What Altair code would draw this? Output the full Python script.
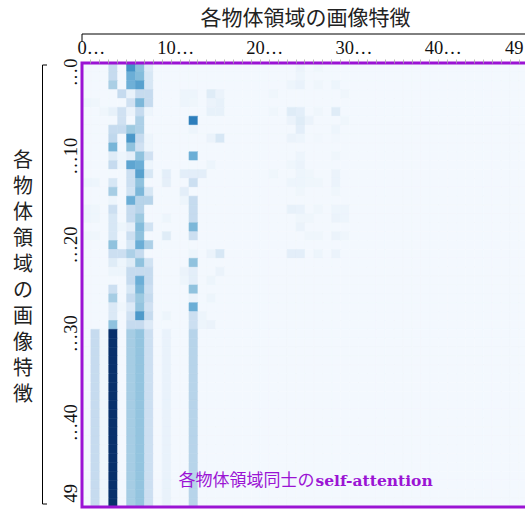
import altair as alt
import pandas as pd

# ---- attention weights (query row -> key column), 50 object regions ----
N_REGIONS = 50
BASE_WEIGHT = 0.02

# rows 0-29: sparse weights {column: weight}; unspecified columns take BASE_WEIGHT
upper_rows = [
    {3: 0.25, 5: 0.62, 6: 0.42, 7: 0.13, 24: 0.06, 26: 0.04},
    {3: 0.25, 5: 0.50, 6: 0.44, 7: 0.16, 24: 0.05},
    {3: 0.34, 5: 0.49, 6: 0.56, 7: 0.16, 23: 0.05, 24: 0.07, 26: 0.04, 28: 0.05},
    {4: 0.25, 5: 0.07, 6: 0.25, 7: 0.25, 11: 0.05, 12: 0.05, 14: 0.12, 15: 0.06, 21: 0.04, 29: 0.04},
    {0: 0.05, 1: 0.04, 5: 0.20, 6: 0.46, 7: 0.25, 11: 0.05, 12: 0.04, 14: 0.06, 15: 0.08},
    {2: 0.04, 3: 0.08, 4: 0.20, 5: 0.06, 6: 0.25, 7: 0.05, 14: 0.08, 15: 0.08, 21: 0.04,
     23: 0.12, 24: 0.10, 26: 0.04, 28: 0.12},
    {4: 0.20, 6: 0.33, 12: 0.70, 23: 0.06, 24: 0.12, 25: 0.06, 29: 0.04},
    {3: 0.25, 4: 0.25, 5: 0.375, 6: 0.33, 12: 0.05, 24: 0.10, 28: 0.05},
    {3: 0.27, 5: 0.60, 6: 0.25, 7: 0.05, 14: 0.06, 15: 0.16, 23: 0.06, 24: 0.05, 26: 0.03, 28: 0.03},
    {3: 0.47, 5: 0.41, 6: 0.20, 7: 0.05},
    {3: 0.12, 4: 0.05, 5: 0.09, 6: 0.41, 7: 0.20, 12: 0.50, 24: 0.05, 28: 0.04},
    {3: 0.25, 4: 0.05, 5: 0.54, 6: 0.50, 7: 0.05, 14: 0.05, 23: 0.04, 24: 0.06},
    {5: 0.22, 6: 0.56, 7: 0.16, 9: 0.10, 11: 0.10, 12: 0.10, 13: 0.10, 21: 0.04, 24: 0.05, 25: 0.04, 28: 0.06},
    {0: 0.05, 1: 0.05, 3: 0.16, 5: 0.22, 6: 0.41, 9: 0.09, 12: 0.22, 23: 0.05, 24: 0.05, 25: 0.04,
     26: 0.04, 28: 0.06},
    {3: 0.35, 5: 0.19, 6: 0.46, 7: 0.16, 11: 0.10, 24: 0.04, 28: 0.04},
    {3: 0.05, 5: 0.50, 6: 0.30, 7: 0.30, 11: 0.05, 12: 0.25},
    {0: 0.05, 1: 0.04, 3: 0.22, 5: 0.25, 6: 0.30, 12: 0.25, 23: 0.08, 24: 0.07, 26: 0.04, 28: 0.05, 29: 0.05},
    {0: 0.05, 1: 0.04, 3: 0.16, 5: 0.25, 6: 0.375, 9: 0.05, 12: 0.25, 24: 0.04, 25: 0.04, 28: 0.06, 29: 0.05},
    {3: 0.16, 4: 0.05, 5: 0.09, 6: 0.44, 7: 0.19, 12: 0.46, 24: 0.06},
    {0: 0.04, 1: 0.04, 3: 0.16, 5: 0.22, 6: 0.41, 9: 0.12, 12: 0.22, 25: 0.04, 26: 0.04, 28: 0.06, 29: 0.04},
    {3: 0.41, 5: 0.16, 6: 0.50, 7: 0.33},
    {3: 0.22, 4: 0.22, 5: 0.33, 6: 0.25, 12: 0.05, 14: 0.06, 15: 0.16, 23: 0.10, 24: 0.10, 26: 0.05, 28: 0.06},
    {3: 0.12, 4: 0.05, 5: 0.12, 6: 0.41, 7: 0.19, 12: 0.41},
    {3: 0.05, 4: 0.05, 5: 0.25, 6: 0.25, 7: 0.25, 11: 0.06, 12: 0.10, 15: 0.06},
    {5: 0.25, 6: 0.50, 7: 0.25, 11: 0.05, 12: 0.10, 14: 0.05},
    {3: 0.22, 5: 0.16, 6: 0.46, 7: 0.22, 12: 0.41},
    {3: 0.35, 5: 0.25, 6: 0.38, 7: 0.25, 12: 0.06, 14: 0.05},
    {3: 0.14, 4: 0.04, 5: 0.13, 6: 0.40, 7: 0.20, 12: 0.50},
    {3: 0.14, 5: 0.20, 6: 0.59, 7: 0.25, 9: 0.05, 12: 0.22, 13: 0.05},
    {3: 0.41, 5: 0.25, 6: 0.25, 7: 0.13, 12: 0.22, 13: 0.05, 14: 0.06},
]

# rows 30-49 all attend with the same pattern
lower_row = {1: 0.25, 2: 0.04, 3: 1.0, 5: 0.35, 6: 0.40, 7: 0.22, 9: 0.07, 12: 0.30}

axis_title = "各物体領域の画像特徴"
note_jp = "各物体領域同士の"
note_en = "self-attention"

records = []
for r in range(N_REGIONS):
    weights = upper_rows[r] if r < len(upper_rows) else lower_row
    for c in range(N_REGIONS):
        records.append({"query": r, "key": c, "weight": weights.get(c, BASE_WEIGHT)})
df = pd.DataFrame(records)

W, H = 446, 444
CELL_W, CELL_H = W / N_REGIONS, H / N_REGIONS
PURPLE = "#9b14d4"
SERIF = "Liberation Serif"
CJK = "Noto Sans CJK JP"

blues = ["#f7fbff", "#deebf7", "#c6dbef", "#9ecae1", "#6baed6",
         "#4292c6", "#2171b5", "#08519c", "#08306b"]
stops = [i / 8 for i in range(9)]

x_axis = alt.Axis(
    orient="top",
    bandPosition=1,
    labelExpr="datum.value % 10 == 0 ? datum.value + '…' : (datum.value == 49 ? '49' : '')",
    labelAngle=0,
    labelFont=SERIF,
    labelFontSize=18.5,
    labelColor="#111",
    labelPadding=2,
    labelOverlap=False,
    labelBaseline="bottom",
    labelAlign={"condition": [{"test": "datum.value == 0", "value": "left"},
                              {"test": "datum.value == 49", "value": "right"}],
                "value": "center"},
    labelOffset={"condition": {"test": "datum.value == 0", "value": -CELL_W}, "value": 0},
    domain=False,
    ticks=True,
    tickSize=4,
    tickWidth=0.8,
    tickColor="#aaaaaa",
    grid=False,
    title=axis_title,
    titleFont=CJK,
    titleFontSize=21,
    titleFontWeight="normal",
    titleColor="#222",
    titleX=W / 2,
    titleY=-35,
    titleAlign="center",
    titleBaseline="bottom",
)

y_axis = alt.Axis(
    orient="left",
    bandPosition=1,
    labelExpr="datum.value % 10 == 0 ? '…' + datum.value : (datum.value == 49 ? '49' : '')",
    labelAngle=270,
    labelFont=SERIF,
    labelFontSize=18.5,
    labelColor="#111",
    labelPadding=2,
    labelOverlap=False,
    labelBaseline="bottom",
    labelAlign={"condition": [{"test": "datum.value == 0", "value": "right"},
                              {"test": "datum.value == 49", "value": "left"}],
                "value": "center"},
    labelOffset={"condition": {"test": "datum.value == 0", "value": -CELL_H}, "value": 0},
    domain=False,
    ticks=False,
    tickSize=0,
    grid=False,
    title=list(axis_title),
    titleFont=CJK,
    titleFontSize=20,
    titleFontWeight="normal",
    titleColor="#222",
    titleAngle=0,
    titleX=-59.5,
    titleY=87,
    titleAlign="center",
    titleBaseline="top",
    titleLineHeight=26,
)

weight_scale = alt.Scale(domain=stops, range=blues, clamp=True)

# cells are stroked with their own colour so neighbouring cells close up without seams
heat = alt.Chart(df).mark_rect(strokeWidth=0.6).encode(
    x=alt.X("key:O", axis=x_axis, scale=alt.Scale(paddingInner=0, paddingOuter=0)),
    y=alt.Y("query:O", axis=y_axis, scale=alt.Scale(paddingInner=0, paddingOuter=0)),
    fill=alt.Fill("weight:Q", legend=None, scale=weight_scale),
    stroke=alt.Stroke("weight:Q", legend=None, scale=weight_scale),
)

one = pd.DataFrame({"k": [0]})

# purple frame around the attention map
frame = alt.Chart(one).mark_rect(fill="transparent", stroke=PURPLE, strokeWidth=3).encode(
    x=alt.value(0), x2=alt.value(W), y=alt.value(0), y2=alt.value(H)
)

# bracket lines for the two axis groups
bracket_style = dict(color="black", strokeWidth=1)
top_line = alt.Chart(one).mark_rule(**bracket_style).encode(
    x=alt.value(0), x2=alt.value(W + 10), y=alt.value(-29))
top_hook = alt.Chart(one).mark_rule(**bracket_style).encode(
    x=alt.value(0), y=alt.value(-29), y2=alt.value(-21))
left_line = alt.Chart(one).mark_rule(**bracket_style).encode(
    x=alt.value(-39.5), y=alt.value(2), y2=alt.value(441))
left_hook_top = alt.Chart(one).mark_rule(**bracket_style).encode(
    x=alt.value(-39.5), x2=alt.value(-35), y=alt.value(2))
left_hook_bottom = alt.Chart(one).mark_rule(**bracket_style).encode(
    x=alt.value(-39.5), x2=alt.value(-35), y=alt.value(441))

note_a = alt.Chart(pd.DataFrame({"t": [note_jp]})).mark_text(
    font=CJK, fontSize=17, color=PURPLE, align="right", baseline="middle"
).encode(text="t:N", x=alt.value(232.5), y=alt.value(418))
note_b = alt.Chart(pd.DataFrame({"t": [note_en]})).mark_text(
    font="DejaVu Serif", fontSize=15.5, fontWeight="bold", color=PURPLE, align="left", baseline="middle"
).encode(text="t:N", x=alt.value(233.5), y=alt.value(418))

chart = alt.layer(
    heat, frame, top_line, top_hook, left_line, left_hook_top, left_hook_bottom, note_a, note_b
).properties(
    width=W,
    height=H,
    autosize=alt.AutoSizeParams(type="none"),
    padding={"left": 82, "top": 63, "right": -3, "bottom": 2},
).configure_view(strokeWidth=0)

chart.save("out.html", embed_options={"renderer": "svg", "actions": False})
